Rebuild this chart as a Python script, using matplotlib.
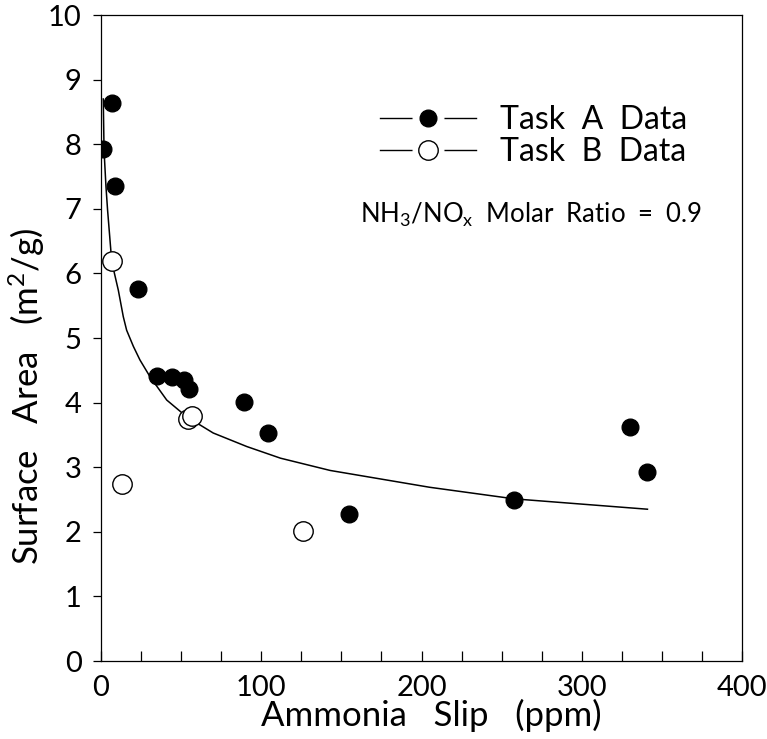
import numpy as np
import matplotlib
matplotlib.use('Agg')
import matplotlib.pyplot as plt
from matplotlib.lines import Line2D
from matplotlib.legend_handler import HandlerTuple
from matplotlib.ticker import MultipleLocator

# --- data ---
task_a_slip = [1.2, 6.9, 8.7, 23, 35, 44, 52, 55, 89, 104, 155, 258, 330, 341]
task_a_area = [7.93, 8.64, 7.35, 5.76, 4.41, 4.40, 4.35, 4.21, 4.01, 3.53, 2.28, 2.49, 3.62, 2.93]

task_b_slip = [7.0, 13.0, 54.0, 57.0, 126.0]
task_b_area = [6.19, 2.74, 3.75, 3.79, 2.01]

# fitted curve, points
fit_slip = [1.4, 1.9, 3.1, 4.1, 6.7, 10.8, 13.9, 16, 20.2, 24.3, 30.6, 41, 53.5, 70, 91, 112, 143, 205, 258, 341]
fit_area = [8.70, 7.90, 7.34, 6.98, 6.18, 5.74, 5.33, 5.12, 4.87, 4.66, 4.40, 4.04, 3.78, 3.53, 3.32, 3.14, 2.95, 2.69, 2.51, 2.35]

plt.rcParams['font.family'] = ['Lato', 'DejaVu Sans']
plt.rcParams['mathtext.fontset'] = 'custom'
plt.rcParams['mathtext.rm'] = 'Lato'
plt.rcParams['mathtext.it'] = 'Lato'

fig = plt.figure(figsize=(7.67, 7.39), dpi=100)
ax = fig.add_axes([0.1317, 0.1055, 0.8357, 0.8742])

ax.plot(fit_slip, fit_area, color='black', lw=1.1, zorder=2)
ax.plot(task_a_slip, task_a_area, 'o', color='black', ms=12, zorder=3)
ax.plot(task_b_slip, task_b_area, 'o', mfc='white', mec='black', mew=1.0, ms=14, zorder=3)

ax.set_xlim(0, 400)
ax.set_ylim(0, 10)
ax.xaxis.set_major_locator(MultipleLocator(100))
ax.xaxis.set_minor_locator(MultipleLocator(25))
ax.yaxis.set_major_locator(MultipleLocator(1))

ax.tick_params(axis='x', which='both', direction='in', length=7, width=0.9,
               labelsize=21, pad=10)
ax.tick_params(axis='y', which='both', direction='out', length=6, width=0.9,
               labelsize=21, pad=8)
for s in ax.spines.values():
    s.set_linewidth(0.9)

ax.set_xlabel('Ammonia   Slip   (ppm)', fontsize=25)
ax.set_ylabel('Surface   Area   (m$^\\mathrm{2}$/g)', fontsize=25)
ax.xaxis.set_label_coords(0.515, -0.058)
ax.yaxis.set_label_coords(-0.085, 0.41)

# --- legend: line broken around the marker ---
gap_a = Line2D([], [], color='black', lw=1, marker='o', ms=22, mfc='white', mec='white')
dot_a = Line2D([], [], ls='none', marker='o', ms=12, color='black')
gap_b = Line2D([], [], color='black', lw=1, marker='o', ms=22, mfc='white', mec='white')
dot_b = Line2D([], [], ls='none', marker='o', ms=14, mfc='white', mec='black', mew=1.0)
ax.legend([(gap_a, dot_a), (gap_b, dot_b)], ['Task  A  Data', 'Task  B  Data'],
          handler_map={tuple: HandlerTuple(ndivide=1)},
          loc='upper left', bbox_to_anchor=(0.39, 0.905), frameon=False, fontsize=23,
          handlelength=3.0, handletextpad=0.75, labelspacing=0.05)

ax.text(0.938, 0.69, r'NH$_\mathrm{3}$/NO$_\mathrm{x}$  Molar  Ratio  =  0.9', transform=ax.transAxes,
        ha='right', va='center', fontsize=18.5)

fig.savefig('out.png', dpi=100)
